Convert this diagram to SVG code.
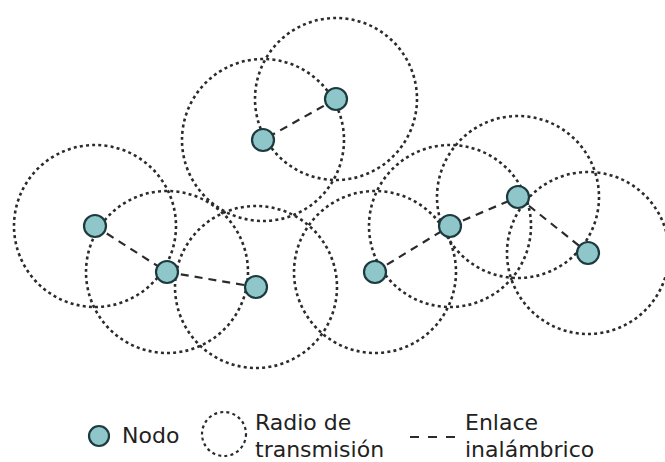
<svg xmlns="http://www.w3.org/2000/svg" width="665" height="462" viewBox="0 0 665 462">
  <style>
    .range { fill: none; stroke: #2b2b2b; stroke-width: 2.6; stroke-dasharray: 3 3.2; }
    .link { stroke: #2b2b2b; stroke-width: 2.2; stroke-dasharray: 8 6; fill: none; }
    .node { fill: #8ec6ca; stroke: #1d3b3e; stroke-width: 2.2; }
    .label { font-family: "DejaVu Sans", sans-serif; font-size: 22px; fill: #222; }
  </style>
  <rect width="665" height="462" fill="#fff"/>

  <!-- transmission ranges -->
  <g id="ranges">
    <circle class="range" cx="336" cy="99" r="81"/>
    <circle class="range" cx="263" cy="140" r="81"/>
    <circle class="range" cx="95" cy="226" r="81"/>
    <circle class="range" cx="167" cy="272" r="81"/>
    <circle class="range" cx="256" cy="287" r="81"/>
    <circle class="range" cx="375" cy="272" r="81"/>
    <circle class="range" cx="450" cy="226" r="81"/>
    <circle class="range" cx="518" cy="197" r="81"/>
    <circle class="range" cx="588" cy="253" r="81"/>
  </g>

  <!-- wireless links -->
  <g id="links">
    <line class="link" x1="336" y1="99" x2="263" y2="140"/>
    <line class="link" x1="95" y1="226" x2="167" y2="272"/>
    <line class="link" x1="167" y1="272" x2="256" y2="287"/>
    <line class="link" x1="375" y1="272" x2="450" y2="226"/>
    <line class="link" x1="450" y1="226" x2="518" y2="197"/>
    <line class="link" x1="518" y1="197" x2="588" y2="253"/>
  </g>

  <g id="n1"><circle class="node" cx="336" cy="99" r="11"/></g>
  <g id="n2"><circle class="node" cx="263" cy="140" r="11"/></g>
  <g id="n3"><circle class="node" cx="95" cy="226" r="11"/></g>
  <g id="n4"><circle class="node" cx="167" cy="272" r="11"/></g>
  <g id="n5"><circle class="node" cx="256" cy="287" r="11"/></g>
  <g id="n6"><circle class="node" cx="375" cy="272" r="11"/></g>
  <g id="n7"><circle class="node" cx="450" cy="226" r="11"/></g>
  <g id="n8"><circle class="node" cx="518" cy="197" r="11"/></g>
  <g id="n9"><circle class="node" cx="588" cy="253" r="11"/></g>

  <!-- legend -->
  <g id="legend">
    <circle class="node" cx="99" cy="436" r="10"/>
    <text class="label" x="122" y="443">Nodo</text>
    <circle class="range" cx="224" cy="434" r="22" style="stroke-width:2.2"/>
    <text class="label" x="255" y="430">Radio de</text>
    <text class="label" x="255" y="457">transmisión</text>
    <line class="link" x1="410" y1="437" x2="455" y2="437" style="stroke-dasharray:9 9"/>
    <text class="label" x="465" y="430">Enlace</text>
    <text class="label" x="465" y="457">inalámbrico</text>
  </g>
</svg>
